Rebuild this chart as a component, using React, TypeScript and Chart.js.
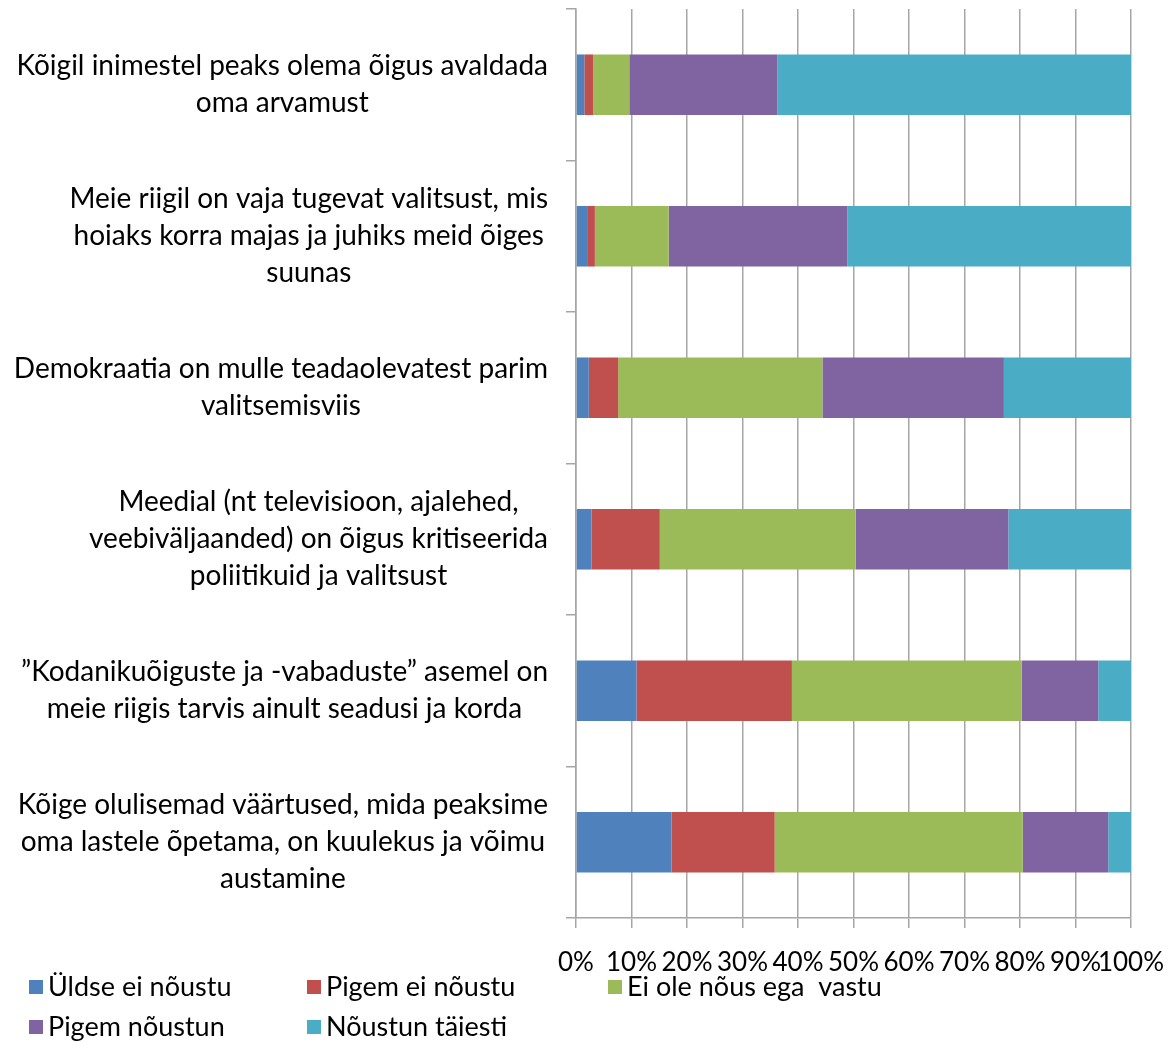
import React, { useEffect, useRef } from "react";
import { Chart, registerables } from "chart.js";

Chart.register(...registerables);

// ---- data ----
const categories: string[][] = [
  ["Kõigil inimestel peaks olema õigus avaldada", "oma arvamust"],
  ["Meie riigil on vaja tugevat valitsust, mis", "hoiaks korra majas ja juhiks meid õiges", "suunas"],
  ["Demokraatia on mulle teadaolevatest parim", "valitsemisviis"],
  ["Meedial (nt televisioon, ajalehed,", "veebiväljaanded) on õigus kritiseerida", "poliitikuid ja valitsust"],
  ["”Kodanikuõiguste ja -vabaduste” asemel on", "meie riigis tarvis ainult seadusi ja korda"],
  ["Kõige olulisemad väärtused, mida peaksime", "oma lastele õpetama, on kuulekus ja võimu", "austamine"],
];

const seriesNames = [
  "Üldse ei nõustu",
  "Pigem ei nõustu",
  "Ei ole nõus ega  vastu",
  "Pigem nõustun",
  "Nõustun täiesti",
];

const seriesColors = ["#4F81BD", "#C0504D", "#9BBB59", "#8064A2", "#4BACC6"];

const uldseEiNoustu = [1.5, 2.0, 2.3, 2.8, 10.9, 17.2];
const pigemEiNoustu = [1.6, 1.4, 5.3, 12.3, 28.0, 18.6];
const eiOleNous = [6.5, 13.3, 36.8, 35.3, 41.4, 44.7];
const pigemNoustun = [26.7, 32.2, 32.7, 27.5, 13.8, 15.4];
const noustunTaiesti = [63.7, 51.1, 22.9, 22.1, 5.9, 4.1];

const seriesValues = [uldseEiNoustu, pigemEiNoustu, eiOleNous, pigemNoustun, noustunTaiesti];

const xTickValues = [0, 10, 20, 30, 40, 50, 60, 70, 80, 90, 100];

// ---- style ----
const FONT = "Lato, 'Open Sans', sans-serif";
const CAT_FONT_SIZE = 28;
const TICK_FONT_SIZE = 26;
const LEGEND_FONT_SIZE = 27;
const GRID_COLOR = "#a6a6a6";

const W = 1175;
const H = 1045;

const yLabelPlugin = {
  id: "yLabelsCentered",
  afterDraw(chart: any) {
    const scale = chart.scales.y;
    const ctx = chart.ctx as CanvasRenderingContext2D;
    ctx.save();
    ctx.font = `${CAT_FONT_SIZE}px ${FONT}`;
    ctx.fillStyle = "#000";
    ctx.textAlign = "center";
    ctx.textBaseline = "middle";
    const right = scale.right - 28;
    const lh = 37;
    categories.forEach((lines, i) => {
      const yc = scale.getPixelForTick(i);
      const widest = Math.max(...lines.map((l) => ctx.measureText(l).width));
      const cx = right - widest / 2;
      lines.forEach((l, j) => {
        ctx.fillText(l, cx, yc + (j - (lines.length - 1) / 2) * lh);
      });
    });
    ctx.restore();
  },
};

const legendCols = [29, 307, 608];
const legendRows = [987, 1027];

const gridLegendPlugin = {
  id: "gridLegend",
  afterDraw(chart: any) {
    const ctx = chart.ctx as CanvasRenderingContext2D;
    ctx.save();
    ctx.font = `${LEGEND_FONT_SIZE}px ${FONT}`;
    ctx.textAlign = "left";
    ctx.textBaseline = "middle";
    chart.data.datasets.forEach((ds: any, i: number) => {
      const x = legendCols[i % 3];
      const y = legendRows[Math.floor(i / 3)];
      ctx.fillStyle = ds.backgroundColor;
      ctx.fillRect(x, y - 7, 14, 14);
      ctx.fillStyle = "#000";
      ctx.fillText(ds.label, x + 19, y);
    });
    ctx.restore();
  },
};

export default function App() {
  const ref = useRef<HTMLCanvasElement | null>(null);

  useEffect(() => {
    document.body.style.margin = "0";
    if (!ref.current) return;
    const chart = new Chart(ref.current, {
      type: "bar",
      data: {
        labels: categories.map((c) => c.join(" ")),
        datasets: seriesNames.map((name, i) => ({
          label: name,
          data: seriesValues[i],
          backgroundColor: seriesColors[i],
          borderWidth: 0,
          categoryPercentage: 0.8,
          barPercentage: 0.5,
        })),
      },
      options: {
        indexAxis: "y",
        responsive: false,
        animation: false,
        layout: { padding: { top: 9, right: 44, bottom: 57, left: 0 } },
        plugins: {
          legend: { display: false },
          tooltip: { enabled: false },
        },
        scales: {
          x: {
            stacked: true,
            min: 0,
            max: 100,
            afterBuildTicks: (scale: any) => {
              scale.ticks = xTickValues.map((v) => ({ value: v }));
            },
            afterFit: (scale: any) => {
              scale.height = 70;
              scale.paddingLeft = 0;
              scale.paddingRight = 0;
            },
            ticks: {
              autoSkip: false,
              maxRotation: 0,
              minRotation: 0,
              padding: 19,
              color: "#000",
              font: { family: FONT, size: TICK_FONT_SIZE },
              callback: (v: any) => `${v}%`,
            },
            grid: {
              color: GRID_COLOR,
              lineWidth: 1.5,
              tickLength: 10,
              drawTicks: true,
            },
            border: { color: GRID_COLOR, width: 1.5 },
          },
          y: {
            stacked: true,
            afterFit: (scale: any) => {
              scale.width = 576;
              scale.paddingTop = 0;
              scale.paddingBottom = 0;
            },
            ticks: { display: false },
            grid: {
              drawOnChartArea: false,
              drawTicks: true,
              tickLength: 10,
              color: GRID_COLOR,
              lineWidth: 1.5,
            },
            border: { color: GRID_COLOR, width: 1.5 },
          },
        },
      },
      plugins: [yLabelPlugin, gridLegendPlugin],
    } as any);
    return () => chart.destroy();
  }, []);

  return (
    <div style={{ width: W, height: H, overflow: "hidden" }}>
      <canvas ref={ref} width={W} height={H} style={{ display: "block" }} />
    </div>
  );
}
